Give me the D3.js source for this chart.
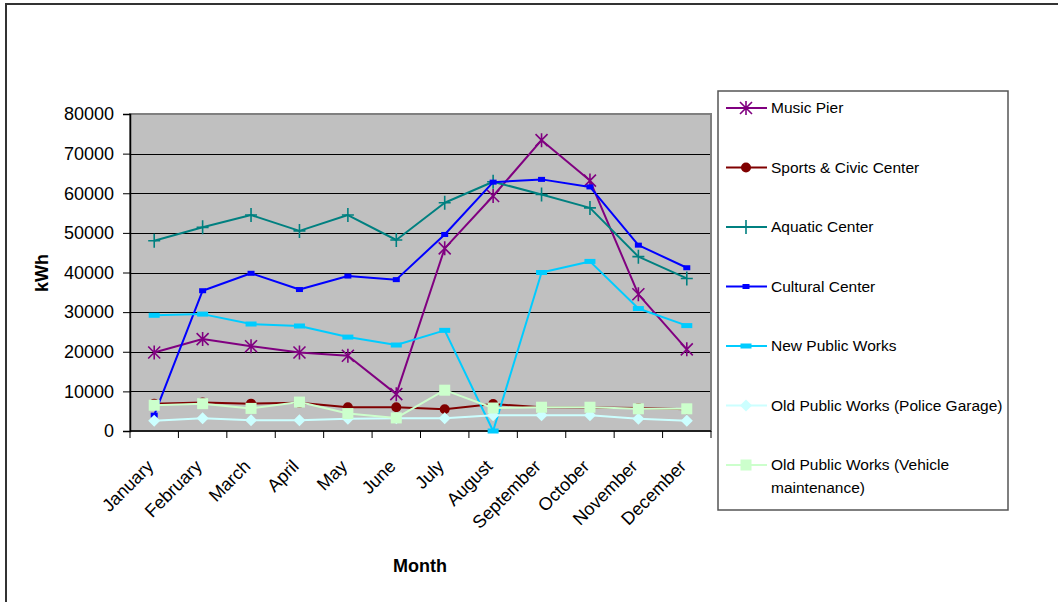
<!DOCTYPE html>
<html>
<head>
<meta charset="utf-8">
<script src="https://cdn.jsdelivr.net/npm/d3@7"></script>
<style>
  html, body { margin: 0; padding: 0; background: #fff; }
  svg { display: block; font-family: "Liberation Sans", Arial, sans-serif; }
</style>
</head>
<body>
<svg id="chart" width="1058" height="602"></svg>
<script>
// Monthly electricity use (kWh) by facility
const months = ["January", "February", "March", "April", "May", "June",
  "July", "August", "September", "October", "November", "December"];
const yTicks = [0, 10000, 20000, 30000, 40000, 50000, 60000, 70000, 80000];

const musicPier      = [19800, 23200, 21400, 19800, 19000, 9300, 46100, 59300, 73400, 63200, 34500, 20600];
const sportsCivic    = [6900, 7200, 6900, 7100, 6000, 6000, 5500, 6800, 6000, 5900, 5800, 5500];
const aquatic        = [48000, 51400, 54500, 50500, 54500, 48200, 57600, 62900, 59700, 56300, 44000, 38500];
const cultural       = [4000, 35400, 39800, 35700, 39100, 38200, 49600, 62800, 63500, 61600, 46900, 41200];
const newPublicWorks = [29200, 29500, 27000, 26500, 23700, 21700, 25400, 0, 40000, 42800, 30900, 26600];
const policeGarage   = [2600, 3200, 2700, 2700, 3100, 3200, 3200, 4000, 4000, 4000, 3100, 2600];
const vehicleMaint   = [6500, 6900, 5700, 7300, 4400, 3300, 10300, 5800, 6000, 6000, 5600, 5600];

const seriesNames = ["Music Pier", "Sports & Civic Center", "Aquatic Center", "Cultural Center",
  "New  Public Works", "Old Public Works (Police Garage)", "Old Public Works (Vehicle maintenance)"];
const seriesValues = [musicPier, sportsCivic, aquatic, cultural, newPublicWorks, policeGarage, vehicleMaint];
const seriesColors = ["#800080", "#800000", "#008080", "#0000ff", "#00ccff", "#ccffff", "#ccffcc"];
const seriesMarkers = ["star", "circle", "plus", "dash", "bar", "diamond", "square"];

const svg = d3.select("#chart");

// outer frame (only top and left edges fall inside the view)
svg.append("rect").attr("x", 6).attr("y", 4).attr("width", 1200).attr("height", 800)
  .attr("fill", "#fff").attr("stroke", "#333").attr("stroke-width", 2);

const plot = { left: 130, right: 711, top: 114, bottom: 431 };

const x = d3.scaleBand().domain(months).range([plot.left, plot.right]);
const y = d3.scaleLinear().domain([0, 80000]).range([plot.bottom, plot.top]);

// plot background
svg.append("rect").attr("x", plot.left).attr("y", plot.top)
  .attr("width", plot.right - plot.left).attr("height", plot.bottom - plot.top)
  .attr("fill", "#c0c0c0");

// horizontal gridlines
svg.append("g").selectAll("line").data(yTicks.filter(d => d > 0 && d < 80000)).join("line")
  .attr("x1", plot.left).attr("x2", plot.right)
  .attr("y1", d => Math.round(y(d)) + 0.5).attr("y2", d => Math.round(y(d)) + 0.5)
  .attr("stroke", "#000").attr("stroke-width", 1);

// plot border
svg.append("rect").attr("x", plot.left).attr("y", plot.top)
  .attr("width", plot.right - plot.left).attr("height", plot.bottom - plot.top)
  .attr("fill", "none").attr("stroke", "#808080").attr("stroke-width", 2);

// y axis
const yAxis = svg.append("g").attr("transform", `translate(${plot.left},0)`)
  .call(d3.axisLeft(y).tickValues(yTicks).tickFormat(d3.format("d")).tickSizeOuter(0).tickSize(7).tickPadding(9));
yAxis.select(".domain").attr("stroke", "#000").attr("stroke-width", 1.5);
yAxis.selectAll(".tick line").attr("stroke", "#000");
yAxis.selectAll(".tick text").attr("font-size", 18).attr("fill", "#000")
  .attr("font-family", "Liberation Sans, Arial, sans-serif");

// x axis: ticks at category boundaries
const xAxisG = svg.append("g").attr("transform", `translate(0,${plot.bottom})`);
xAxisG.append("line").attr("x1", plot.left).attr("x2", plot.right)
  .attr("y1", 0).attr("y2", 0).attr("stroke", "#000").attr("stroke-width", 1.5);
const boundaries = months.map(m => x(m)).concat([plot.right]);
xAxisG.selectAll("line.tk").data(boundaries).join("line").attr("class", "tk")
  .attr("x1", d => d).attr("x2", d => d).attr("y1", 0).attr("y2", 7)
  .attr("stroke", "#000");
xAxisG.selectAll("text").data(months).join("text")
  .attr("transform", d => `translate(${x(d) + x.bandwidth() / 2 - 4},${32}) rotate(-45)`)
  .attr("text-anchor", "end").attr("dy", "0.35em")
  .attr("font-size", 18).attr("fill", "#000")
  .text(d => d);

// axis titles
svg.append("text").attr("x", 420).attr("y", 572).attr("text-anchor", "middle")
  .attr("font-size", 18).attr("font-weight", "bold").text("Month");
svg.append("text").attr("transform", "translate(48,273) rotate(-90)")
  .attr("text-anchor", "middle").attr("font-size", 18).attr("font-weight", "bold").text("kWh");

// marker drawing
function drawMarker(g, type, color) {
  switch (type) {
    case "star":
      g.append("path").attr("d", "M-6,-6L6,6M6,-6L-6,6M0,-7L0,7")
        .attr("stroke", color).attr("stroke-width", 1.6).attr("fill", "none");
      break;
    case "circle":
      g.append("circle").attr("r", 5).attr("fill", color);
      break;
    case "plus":
      g.append("path").attr("d", "M-6,0L6,0M0,-7L0,7")
        .attr("stroke", color).attr("stroke-width", 1.6).attr("fill", "none");
      break;
    case "dash":
      g.append("rect").attr("x", -3.5).attr("y", -2.5).attr("width", 7).attr("height", 5).attr("fill", color);
      break;
    case "bar":
      g.append("rect").attr("x", -5.5).attr("y", -2.5).attr("width", 11).attr("height", 5).attr("fill", color);
      break;
    case "diamond":
      g.append("path").attr("d", "M0,-6L6,0L0,6L-6,0Z").attr("fill", color);
      break;
    case "square":
      g.append("rect").attr("x", -5.5).attr("y", -5.5).attr("width", 11).attr("height", 11).attr("fill", color);
      break;
  }
}

const line = d3.line().x((d, i) => x(months[i]) + x.bandwidth() / 2).y(d => y(d));

seriesValues.forEach((vals, si) => {
  const g = svg.append("g");
  g.append("path").datum(vals).attr("d", line)
    .attr("fill", "none").attr("stroke", seriesColors[si]).attr("stroke-width", 2)
    .attr("stroke-linejoin", "round");
  vals.forEach((v, i) => {
    const m = g.append("g").attr("transform", `translate(${x(months[i]) + x.bandwidth() / 2},${y(v)})`);
    drawMarker(m, seriesMarkers[si], seriesColors[si]);
  });
});

// legend
const legend = svg.append("g");
legend.append("rect").attr("x", 718).attr("y", 91).attr("width", 290).attr("height", 419)
  .attr("fill", "#fff").attr("stroke", "#555").attr("stroke-width", 1.5);
const legendY = d3.scalePoint().domain(seriesNames).range([108, 465]);
seriesNames.forEach((name, si) => {
  const ly = legendY(name);
  const item = legend.append("g").attr("transform", `translate(0,${ly})`);
  item.append("line").attr("x1", 726).attr("x2", 767).attr("y1", 0).attr("y2", 0)
    .attr("stroke", seriesColors[si]).attr("stroke-width", 2);
  drawMarker(item.append("g").attr("transform", "translate(746,0)"), seriesMarkers[si], seriesColors[si]);
  const t = item.append("text").attr("x", 771).attr("y", 0).attr("dy", "0.35em")
    .attr("font-size", 15.5).attr("fill", "#000");
  if (name === "Old Public Works (Vehicle maintenance)") {
    t.append("tspan").attr("x", 771).text("Old Public Works (Vehicle");
    t.append("tspan").attr("x", 771).attr("dy", 23).text("maintenance)");
  } else {
    t.text(name);
  }
});
</script>
</body>
</html>
